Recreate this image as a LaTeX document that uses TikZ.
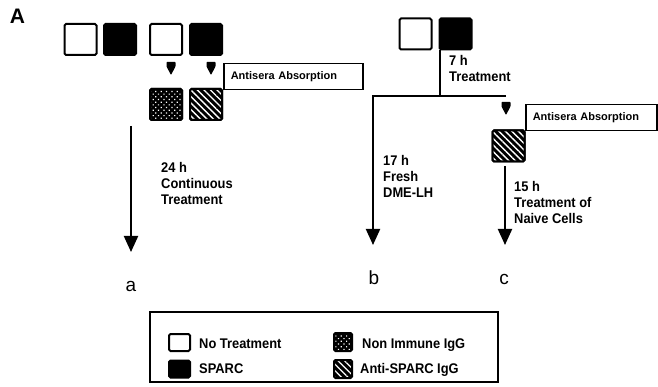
\documentclass[tikz,border=0pt]{standalone}
\usepackage{fontspec}
\setmainfont{Liberation Sans}
\newfontfamily\condfont{Liberation Sans}[FakeStretch=0.92]
\usetikzlibrary{arrows.meta,patterns.meta}
\tikzset{
  box/.style={draw=black, line width=2pt, rounded corners=1.5pt, inner sep=0pt, minimum width=32pt, minimum height=31pt},
  whitebox/.style={box, fill=white},
  blackbox/.style={box, fill=black},
  dotbox/.style={box, fill=black,
    postaction={pattern={Dots[distance=3.8pt,radius=0.85pt,angle=45]}, pattern color=white},
    postaction={draw=black, line width=2pt}},
  hatchbox/.style={box, fill=black,
    postaction={pattern={Lines[angle=-45,distance=4.6pt,line width=1.3pt]}, pattern color=white},
    postaction={draw=black, line width=2pt}},
  legsq/.style={minimum width=21pt, minimum height=17pt},
  legpat/.style={minimum width=18pt, minimum height=18pt, line width=1.5pt},
  lbl/.style={font=\condfont\bfseries\fontsize{14}{16}\selectfont, align=left, inner sep=0pt, anchor=north west},
  legtxt/.style={font=\condfont\bfseries\fontsize{14}{16}\selectfont, inner sep=0pt, anchor=base west},
  absbox/.style={draw=black, line width=1.5pt, inner xsep=7pt, inner ysep=0pt, minimum height=26pt,
    anchor=north west, align=left, font=\bfseries\fontsize{11}{12}\selectfont},
  letter/.style={font=\fontsize{19}{20}\selectfont, inner sep=0pt, anchor=base},
  flow/.style={line width=2pt, -{Triangle[length=16pt,width=14pt]}},
  droptip/.style={fill=black, rounded corners=0.6pt}
}
\begin{document}
\begin{tikzpicture}[x=1pt,y=-1pt]
\useasboundingbox (0,0) rectangle (658,387);

% panel letter
\node[font=\bfseries\fontsize{21}{22}\selectfont, inner sep=0pt, anchor=base] (panel) at (17.5,24) {A};

% ---- group a ----
\node[whitebox] (a1) at (80.5,39.5) {};
\node[blackbox] (a2) at (120,39.5) {};
\node[whitebox] (a3) at (166,39.5) {};
\node[blackbox] (a4) at (206,39.5) {};
\coordinate (d1) at (171,62);
\coordinate (d2) at (211,62);
\fill[droptip] (d1) ++(-4.5,0) -- ++(9,0) -- ++(0,4.5) -- ++(-4.5,8.5) -- ++(-4.5,-8.5) -- cycle;
\fill[droptip] (d2) ++(-4.5,0) -- ++(9,0) -- ++(0,4.5) -- ++(-4.5,8.5) -- ++(-4.5,-8.5) -- cycle;
\node[dotbox] (p1) at (166,104.5) {};
\node[hatchbox] (p2) at (206,104.5) {};
\node[absbox, text width=125pt] (abs1) at (223,63) {Antisera Absorption};

\coordinate (atop) at (131,126);
\node[letter] (la) at (131,291) {a};
\coordinate (aend) at (131,252);
\draw[flow] (atop) -- (aend);
\node[lbl] (ta) at (161,162) {24 h\\Continuous\\Treatment};

% ---- group b / c ----
\node[whitebox] (c1) at (415.5,34) {};
\node[blackbox] (c2) at (455.5,34) {};
\coordinate (split) at (440,96);
\coordinate (bl) at (373,96);
\coordinate (br) at (506,96);
\coordinate (bend) at (373,245);
\draw[line width=2pt] (c2.south west -| split) -- (split);
\draw[flow, line join=miter] (br) -- (bl) -- (bend);
\node[lbl] (t7) at (449,55) {7 h\\Treatment};
\node[lbl] (t17) at (383,155.5) {17 h\\Fresh\\DME-LH};
\node[letter] (lb) at (374,284) {b};

\coordinate (d3) at (506,102);
\fill[droptip] (d3) ++(-4.5,0) -- ++(9,0) -- ++(0,4.5) -- ++(-4.5,8.5) -- ++(-4.5,-8.5) -- cycle;
\node[absbox, text width=117pt] (abs2) at (525,104) {Antisera Absorption};
\node[hatchbox] (hc) at (508.5,146) {};
\coordinate (ctop) at (505,166);
\coordinate (cend) at (505,245);
\draw[flow] (ctop) -- (cend);
\node[lbl] (t15) at (514,181) {15 h\\Treatment of\\Naive Cells};
\node[letter] (lc) at (504,284) {c};

% ---- legend ----
\node[draw=black, line width=1.5pt, minimum width=348pt, minimum height=70pt, inner sep=0pt] (legend) at (324,347) {};
\node[whitebox, legsq] (k1) at (179.5,342.5) {};
\node[blackbox, legsq] (k2) at (179.5,369) {};
\node[dotbox, legpat] (k3) at (343,342) {};
\node[hatchbox, legpat] (k4) at (343,369) {};
\node[legtxt] (k1t) at (199,348) {No Treatment};
\node[legtxt] (k2t) at (199,373) {SPARC};
\node[legtxt] (k3t) at (362,348) {Non Immune IgG};
\node[legtxt] (k4t) at (360,373) {Anti-SPARC IgG};
\end{tikzpicture}
\end{document}
